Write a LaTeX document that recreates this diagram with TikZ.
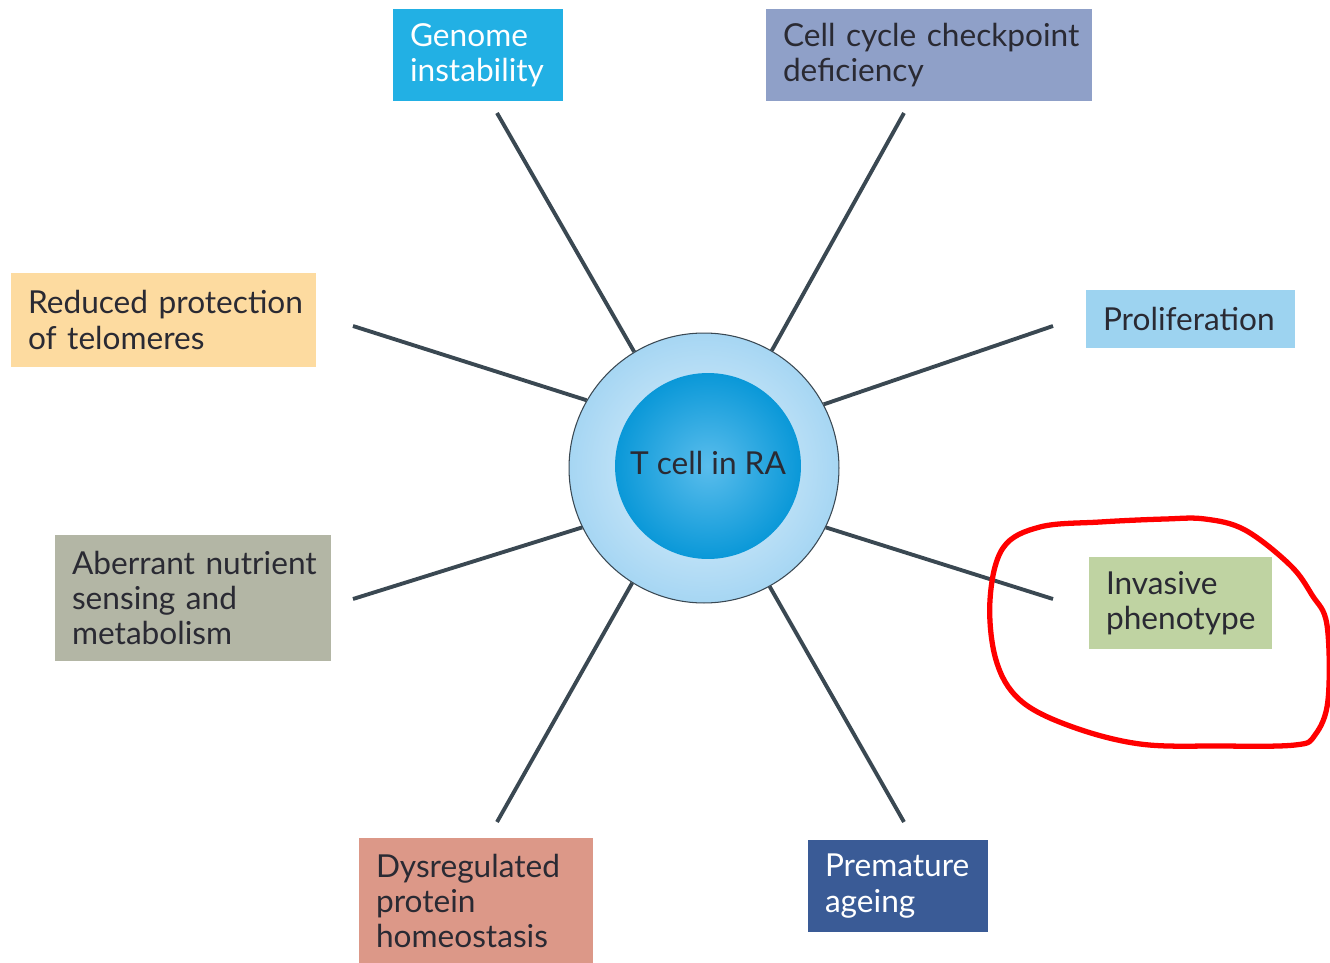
\documentclass[tikz,border=0pt]{standalone}
\usepackage{fontspec}
\setmainfont{Lato}
\usetikzlibrary{shadings}
\definecolor{lineC}{HTML}{3A4852}
\definecolor{txtC}{HTML}{2A2A33}
\definecolor{genomeC}{HTML}{22B0E4}
\definecolor{cellcycC}{HTML}{8FA0C8}
\definecolor{prolifC}{HTML}{9DD3F0}
\definecolor{invasC}{HTML}{BFD3A2}
\definecolor{premC}{HTML}{3A5B96}
\definecolor{dysC}{HTML}{DC9888}
\definecolor{aberC}{HTML}{B3B6A5}
\definecolor{teloC}{HTML}{FDDBA0}
\definecolor{ringOut}{HTML}{A6D6F3}
\definecolor{ringIn}{HTML}{E2F2FC}
\definecolor{coreOut}{HTML}{0A98D8}
\definecolor{coreIn}{HTML}{5ABDEC}
\definecolor{penRed}{HTML}{FF0000}
\begin{document}
\begin{tikzpicture}[x=0.02cm,y=-0.02cm,
  box/.style={rectangle, inner xsep=0.34cm, inner ysep=0pt, align=left,
    font=\fontsize{18}{20}\selectfont, text=txtC},
  spoke/.style={draw=lineC, line width=2.2pt},
]
\useasboundingbox (0,0) rectangle (1330,963);
% boxes
\node[box, fill=genomeC, text=white, minimum width=3.4cm, minimum height=1.86cm, text width=2.72cm] (genome) at (478,55) {\mbox{Genome}\\\mbox{instability}};
\node[box, fill=cellcycC, minimum width=6.52cm, minimum height=1.86cm, text width=5.84cm] (cellcyc) at (929,55) {\mbox{Cell cycle checkpoint}\\\mbox{deficiency}};
\node[box, fill=prolifC, minimum width=4.18cm, minimum height=1.18cm, text width=3.5cm] (prolif) at (1190.5,319) {\mbox{Proliferation}};
\node[box, fill=invasC, minimum width=3.66cm, minimum height=1.86cm, text width=2.98cm] (invas) at (1180.5,603) {\mbox{Invasive}\\\mbox{phenotype}};
\node[box, fill=premC, text=white, minimum width=3.6cm, minimum height=1.86cm, text width=2.92cm] (prem) at (898,886) {\mbox{Premature}\\\mbox{ageing}};
\node[box, fill=dysC, minimum width=4.68cm, minimum height=2.54cm, text width=4.0cm] (dys) at (476,901) {\mbox{Dysregulated}\\\mbox{protein}\\\mbox{homeostasis}};
\node[box, fill=aberC, minimum width=5.52cm, minimum height=2.54cm, text width=4.84cm] (aber) at (193,598) {\mbox{Aberrant nutrient}\\\mbox{sensing and}\\\mbox{metabolism}};
\node[box, fill=teloC, minimum width=6.1cm, minimum height=1.9cm, text width=5.42cm] (telo) at (163.5,320) {\mbox{Reduced protection}\\\mbox{of telomeres}};
% free ends of spokes
\coordinate (eG) at (497,113);
\coordinate (eC) at (904,113);
\coordinate (eT) at (353,326);
\coordinate (eP) at (1053,326);
\coordinate (eA) at (353,599);
\coordinate (eI) at (1053,599);
\coordinate (eD) at (497,822);
\coordinate (eM) at (904,822);
% cell
\node[circle, minimum size=5.4cm, inner sep=0pt, draw=lineC, line width=0.6pt,
  shade, shading=radial, inner color=ringIn, outer color=ringOut] (cell) at (704,468) {};
\node[circle, minimum size=3.72cm, inner sep=0pt,
  shade, shading=radial, inner color=coreIn, outer color=coreOut] (core) at (708,466) {};
\node[font=\fontsize{18}{20}\selectfont, text=txtC] (lbl) at (708,463) {T cell in RA};
% spokes
\draw[spoke] (cell.121.5) -- (eG);
\draw[spoke] (cell.60.6) -- (eC);
\draw[spoke] (cell.150) -- (eT);
\draw[spoke] (cell.28.4) -- (eP);
\draw[spoke] (cell.206) -- (eA);
\draw[spoke] (cell.334.7) -- (eI);
\draw[spoke] (cell.238.7) -- (eD);
\draw[spoke] (cell.299.5) -- (eM);
% red hand-drawn loop
\draw[penRed, line width=3pt, line join=round]
  plot[smooth cycle, tension=0.6] coordinates {
  (1003,548) (1040,527) (1100,522) (1165,519) (1205,519) (1245,530)
  (1290,565) (1312,595) (1327,625) (1328,700) (1315,735) (1295,745)
  (1220,746) (1140,744) (1070,726) (1020,700) (996,660) (990,600)};
\end{tikzpicture}
\end{document}
